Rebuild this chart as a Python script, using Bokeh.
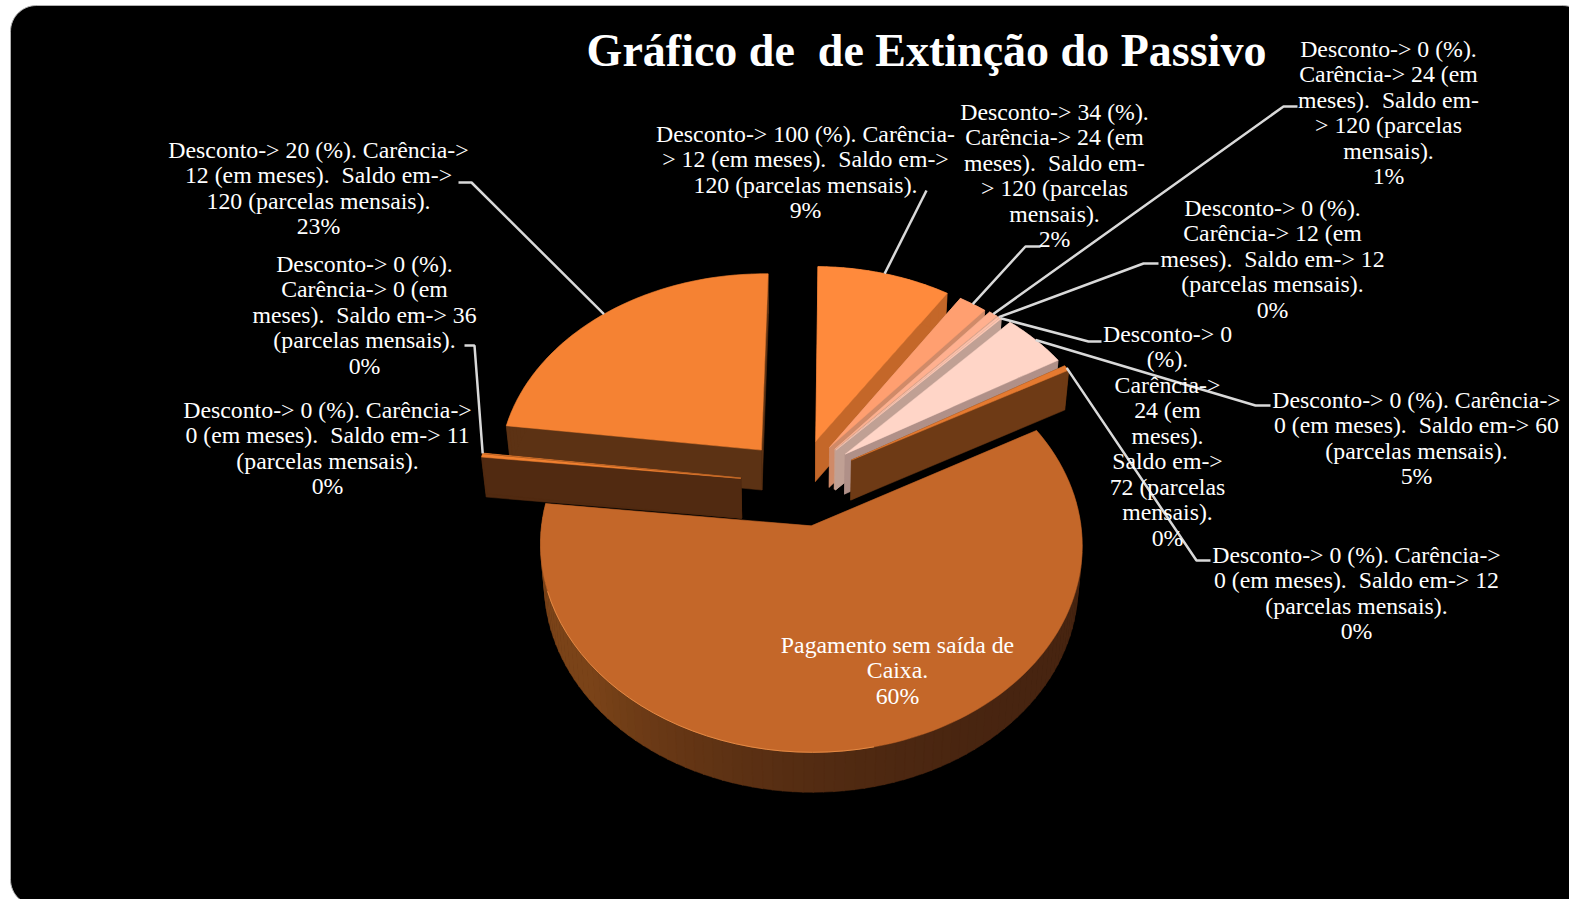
import math
from bokeh.plotting import figure
from bokeh.models import ColumnDataSource
from bokeh.core.properties import value
from bokeh.embed import file_html
from bokeh.resources import INLINE

# ---------- data ----------
title_text = "Gráfico de \u00a0de Extinção do Passivo"
slice_names = ["Pagamento sem saída de Caixa.", "0/0/11", "0/0/36", "20/12/120", "100/12/120", "34/24/120",
               "0/24/120", "0/12/12", "0/24/72", "0/0/60", "0/0/12"]
slice_shares = [59.8, 0.25, 0.05, 23.2, 9.0, 1.9, 0.6, 0.15, 0.1, 4.5, 0.45]
label_lines = [
    ["Pagamento sem saída de", "Caixa.", "60%"],
    ["Desconto-> 0 (%). Carência->", "0 (em meses). \u00a0Saldo em-> 11", "(parcelas mensais).", "0%"],
    ["Desconto-> 0 (%).", "Carência-> 0 (em", "meses). \u00a0Saldo em-> 36", "(parcelas mensais).", "0%"],
    ["Desconto-> 20 (%). Carência->", "12 (em meses). \u00a0Saldo em->", "120 (parcelas mensais).", "23%"],
    ["Desconto-> 100 (%). Carência-", "> 12 (em meses). \u00a0Saldo em->", "120 (parcelas mensais).", "9%"],
    ["Desconto-> 34 (%).", "Carência-> 24 (em", "meses). \u00a0Saldo em-", "> 120 (parcelas", "mensais).", "2%"],
    ["Desconto-> 0 (%).", "Carência-> 24 (em", "meses). \u00a0Saldo em-", "> 120 (parcelas", "mensais).", "1%"],
    ["Desconto-> 0 (%).", "Carência-> 12 (em", "meses). \u00a0Saldo em-> 12", "(parcelas mensais).", "0%"],
    ["Desconto-> 0", "(%).", "Carência->", "24 (em", "meses).", "Saldo em->", "72 (parcelas", "mensais).", "0%"],
    ["Desconto-> 0 (%). Carência->", "0 (em meses). \u00a0Saldo em-> 60", "(parcelas mensais).", "5%"],
    ["Desconto-> 0 (%). Carência->", "0 (em meses). \u00a0Saldo em-> 12", "(parcelas mensais).", "0%"],
]

# ---------- styles ----------
top_colors = ["#C46729", "#F08030", "#F08030", "#F58233", "#FF8A3C", "#FF9F70",
              "#FFB08F", "#FFC0A8", "#FFC8B4", "#FFD5C7", "#E57A30"]
wall_colors = ["#4F2810", "#512A11", "#512A11", "#5C3214", "#C46729", "#D08A68",
               "#C89A84", "#C8A090", "#C0A094", "#B09088", "#6E3A15"]
explode = [0.24, 0.22, 0.22, 0.20, 0.20, 0.20, 0.20, 0.20, 0.20, 0.20, 0.22]
nudge_x = [0, 0, 0, -3, 2, 0, 2, 2, 2, 6, 3]
nudge_y = [0, 5, 5, 1, 0, 0, 0, 0, 0, 0, 3]
paint_order = [3, 4, 5, 6, 7, 8, 9, 10, 2, 1, 0]
first_angle = 61.0
CX, CY, RX, RY, K, DEPTH, SHRINK = 798.0, 478.0, 264.0, 197.0, 0.09, 40.0, 0.985
label_xy = [(897, 644), (327, 409), (364, 263), (318, 149), (805, 133), (1054, 111),
            (1388, 48), (1272, 207), (1167, 333), (1416, 399), (1356, 554)]
LINE_STEP = 25.5
# leader elbow (label end, knee), None when there is no leader
leader_knee = [None, None, [(464, 345), (474, 345)], [(458, 182), (471, 182)], [(926, 190)],
               [(1040, 246), (1025, 246)], [(1297, 106), (1283, 106)], [(1158, 263), (1143, 263)],
               [(1101, 341), (1088, 341)], [(1270, 405), (1255, 405)], [(1210, 560), (1196, 560)]]
FONT = "Liberation Serif"

def project(x, y, lower=False):
    s = 1.0 / (1.0 - K * y)
    if lower:
        return CX + RX * x * s * SHRINK, CY + RY * y * s + DEPTH
    return CX + RX * x * s, CY + RY * y * s

starts, ends, mids = [], [], []
acc = first_angle
for v in slice_shares:
    starts.append(acc)
    acc += v * 3.6
    ends.append(acc)
    mids.append((starts[-1] + ends[-1]) / 2)

def pt(i, ang, r=1.0):
    a = math.radians(mids[i])
    t = math.radians(ang)
    return (explode[i] * math.sin(a) + r * math.sin(t) + nudge_x[i] / RX,
            -explode[i] * math.cos(a) - r * math.cos(t) + nudge_y[i] / RY)

def lerp_col(c1, c2, f):
    a = [int(c1[i:i + 2], 16) for i in (1, 3, 5)]
    b = [int(c2[i:i + 2], 16) for i in (1, 3, 5)]
    return "#%02x%02x%02x" % tuple(int(round(p + (q - p) * f)) for p, q in zip(a, b))

p = figure(width=1569, height=899, x_range=(0, 1569), y_range=(899, 0), toolbar_location=None,
           output_backend="svg", min_border=0, outline_line_color=None, background_fill_color="#FFFFFF",
           border_fill_color="#FFFFFF")
p.axis.visible = False
p.grid.visible = False

# rounded plate
R, L, T, W, B = 26, 10, 5, 1588, 905
bx, by = [], []
for (cx, cy, a0) in [(L + R, T + R, 180), (W - R, T + R, 270), (W - R, B - R, 0), (L + R, B - R, 90)]:
    for d in range(0, 91, 6):
        t = math.radians(a0 + d)
        bx.append(cx + R * math.cos(t))
        by.append(cy + R * math.sin(t))
p.patch(bx, by, fill_color="#000000", line_color="#B0B0B0", line_width=1)

xs, ys, fills = [], [], []

def add(poly, col):
    xs.append([q[0] for q in poly])
    ys.append([q[1] for q in poly])
    fills.append(col)

for i in paint_order:
    apex = pt(i, 0, 0.0)
    a_t, a_b = project(*apex), project(*apex, lower=True)
    for ang in (starts[i], ends[i]):
        e = pt(i, ang)
        add([a_t, project(*e), project(*e, lower=True), a_b], wall_colors[i])
    n = max(2, int((ends[i] - starts[i]) / 2))
    for j in range(n):
        a0 = starts[i] + (ends[i] - starts[i]) * j / n
        a1 = starts[i] + (ends[i] - starts[i]) * (j + 1) / n + 0.2
        e0, e1 = pt(i, min(a0, ends[i])), pt(i, min(a1, ends[i]))
        m = (a0 + a1) / 2 % 360
        if i == 0:
            f = max(0.0, min(1.0, (m - 130) / 100))
            col = lerp_col("#472410", "#7A4318", f * f)
        else:
            col = wall_colors[i]
        add([project(*e0), project(*e1), project(*e1, lower=True), project(*e0, lower=True)], col)
    poly = [a_t]
    m = max(2, int((ends[i] - starts[i]) / 1.5))
    for j in range(m + 1):
        poly.append(project(*pt(i, starts[i] + (ends[i] - starts[i]) * j / m)))
    add(poly, top_colors[i])

p.patches(xs, ys, fill_color=fills, line_color=fills, line_width=0.5)

hl = [project(*pt(0, a)) for a in [168 + d for d in range(0, 86, 3)]]
p.line([q[0] for q in hl], [q[1] for q in hl], line_color="#E58A45", line_width=1)

lx, ly = [], []
for i, knee in enumerate(leader_knee):
    if not knee:
        continue
    anchor = project(*pt(i, mids[i]))
    pts = knee + [anchor]
    lx.append([q[0] for q in pts])
    ly.append([q[1] for q in pts])
p.multi_line(lx, ly, line_color="#D9D9D9", line_width=2.5)

tx, ty, tt = [], [], []
for (cx, cy), lines in zip(label_xy, label_lines):
    for k, s in enumerate(lines):
        tx.append(cx)
        ty.append(cy + k * LINE_STEP)
        tt.append(s)
p.text(x="x", y="y", text="t", source=ColumnDataSource(dict(x=tx, y=ty, t=tt)), text_color="#FFFFFF",
       text_font=value(FONT), text_font_size="23.8px", text_align="center", text_baseline="middle")
p.text(x=[926], y=[50], text=[title_text], text_color="#FFFFFF", text_font=value(FONT),
       text_font_style="bold", text_font_size="46px", text_align="center", text_baseline="middle")

open("out.html", "w").write(file_html(p, INLINE))
